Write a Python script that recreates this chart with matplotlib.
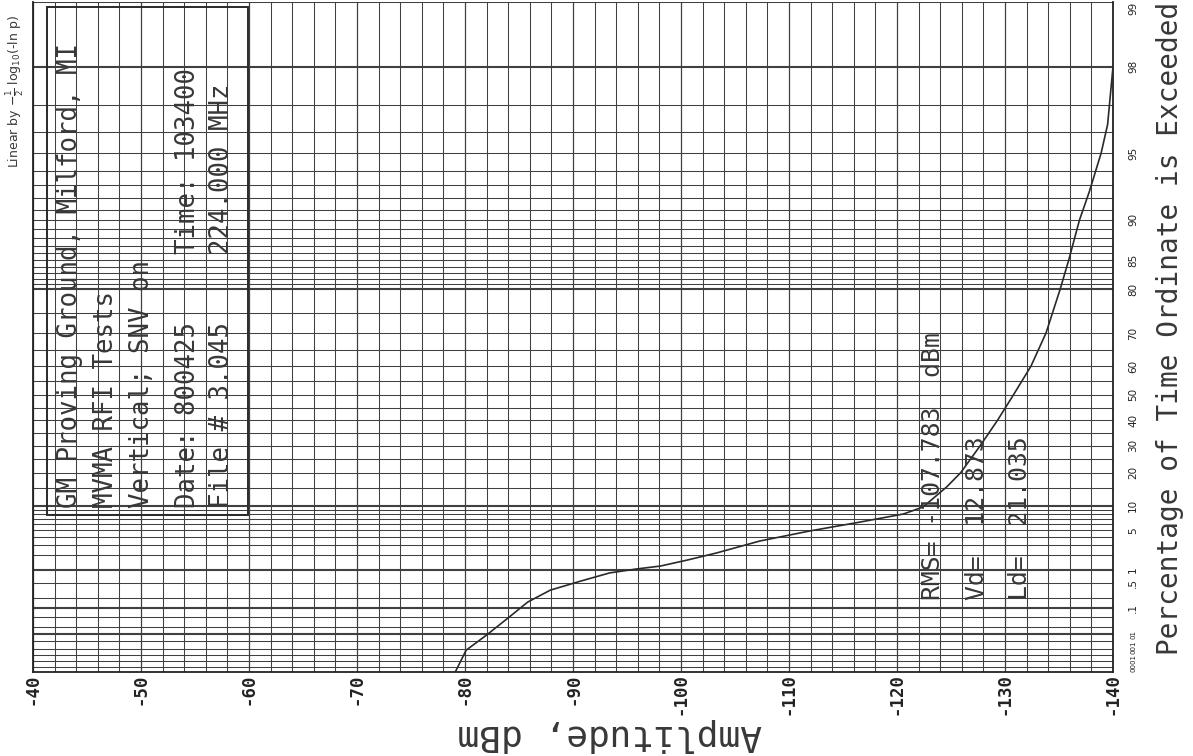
import numpy as np
import matplotlib
matplotlib.use("Agg")
import matplotlib.pyplot as plt
import matplotlib.transforms as mtransforms
from matplotlib.patches import Rectangle
from matplotlib.ticker import MultipleLocator, NullLocator

# ---------------- data ----------------
amplitude_dbm = [-79.1, -80.1, -82.0, -84.0, -85.8, -87.9, -90.7, -93.4, -95.9, -98.1,
                 -100.6, -103.3, -107.3, -111.9, -116.6, -120.6, -122.4, -124.6, -125.9,
                 -127.7, -129.3, -130.8, -132.4, -133.8, -135.1, -135.9, -136.9, -137.8,
                 -138.9, -139.5, -140.0]
percent_exceeded = [0.0001, 0.0018, 0.0094, 0.045, 0.15, 0.33, 0.56, 0.87, 1.06, 1.22,
                    1.61, 2.18, 3.46, 4.88, 6.45, 8.1, 9.7, 15.3, 20,
                    30, 40, 50, 60, 70, 80, 85, 90, 92.5,
                    95, 96.3, 98.0]

x_ticks = [-40, -50, -60, -70, -80, -90, -100, -110, -120, -130, -140]
y_tick_values = [0.0001, 0.001, 0.01, 0.1, 0.5, 1, 5, 10, 20, 30, 40, 50, 60, 70, 80, 85, 90, 95, 98, 99]
y_tick_labels = ["0001", "001", "01", ".1", ".5", "1", "5", "10", "20", "30", "40", "50",
                 "60", "70", "80", "85", "90", "95", "98", "99"]
y_grid_values = ([0.0001, 0.0002, 0.0005, 0.001, 0.002, 0.005, 0.01, 0.02, 0.05,
                  0.1, 0.2, 0.5, 1, 2, 3, 4, 5, 6, 7, 8, 9, 10, 15, 20, 25, 30, 35, 40,
                  45, 50, 55, 60, 65, 70, 75, 80, 81, 82, 83, 84, 85, 86, 87, 88, 89, 90,
                  91, 92, 93, 94, 95, 96, 97, 98, 99])
y_heavy_values = [0.01, 0.1, 1, 10, 80, 98]

box_lines = ["GM Proving Ground, Milford, MI", "MVMA RFI Tests", "Vertical; SNV on",
             "Date: 800425", "File # 3.045"]
box_right_lines = ["Time: 103400", "224.000 MHz"]
stat_lines = ["RMS= -107.783  dBm", "Vd=  12.873", "Ld=  21.035"]

# ---------------- scale ----------------
def fwd(p):
    p = np.clip(np.asarray(p, dtype=float), 1e-12, 100 - 1e-9)
    return -0.5 * np.log10(-np.log(p / 100.0))

def inv(u):
    return 100.0 * np.exp(-10.0 ** (-2.0 * np.asarray(u, dtype=float)))

W, H = 1193, 756
fig = plt.figure(figsize=(W / 100, H / 100), dpi=100)
fig.patch.set_facecolor("white")

ax_left, ax_right, ax_bottom, ax_top = 33, 1113, 672, 2
ax = fig.add_axes([ax_left / W, 1 - ax_bottom / H, (ax_right - ax_left) / W, (ax_bottom - ax_top) / H])
ax.set_yscale("function", functions=(fwd, inv))
ax.set_xlim(-40, -140)
ax.set_ylim(0.0001, 99)

gc = "#404040"
for v in y_grid_values:
    lw = 1.5 if v in y_heavy_values else 0.75
    ax.axhline(v, color=gc, lw=lw, zorder=1)
ax.xaxis.set_minor_locator(MultipleLocator(2))
ax.grid(which="minor", axis="x", color=gc, lw=0.75)
ax.grid(which="major", axis="x", color=gc, lw=0.9)

for s in ["left", "bottom", "right"]:
    ax.spines[s].set_color("#222222")
    ax.spines[s].set_linewidth(1.3)
ax.spines["top"].set_visible(False)

ax.set_xticks(x_ticks)
ax.set_xticklabels([str(t) for t in x_ticks], rotation=90, fontsize=12.5,
                   family="DejaVu Sans Mono", fontweight="bold", color="#222222")
ax.tick_params(axis="x", which="both", length=0, pad=1)

# right-hand percentage labels (positioned through the y scale)
ax.yaxis.set_major_locator(NullLocator())
ax.yaxis.set_minor_locator(NullLocator())
blend = mtransforms.blended_transform_factory(ax.transAxes, ax.transData)
lab_x = 1.0 + 20 / 1080
for v, s in zip(y_tick_values, y_tick_labels):
    small = v < 0.05
    va = "center"
    off = 0
    if v == 0.0001:
        va = "bottom"
    elif v == 0.001:
        off = 6
    elif v == 99:
        va = "top"
    t = ax.text(lab_x, v, s, rotation=90, ha="center", va=va,
                fontsize=5.0 if small else 7.5, color="#222222", transform=blend,
                clip_on=False)
    if off:
        t.set_transform(blend + mtransforms.ScaledTranslation(0, off / 72, fig.dpi_scale_trans))

# curve
ax.plot(amplitude_dbm, percent_exceeded, color="#2a2a2a", lw=1.2, zorder=5)

# text box
ax.add_patch(Rectangle(((47 - ax_left) / 1080, (ax_bottom - 515) / 670),
                       (248 - 47) / 1080, (515 - 7) / 670, transform=ax.transAxes,
                       fill=False, ec="#2a2a2a", lw=1.4, zorder=6))

mono = "DejaVu Sans Mono"
tc = "#383838"
box_x = [70, 106, 142, 188, 222]
for xpx, s in zip(box_x, box_lines):
    fig.text(xpx / W, 1 - 508 / H, s, rotation=90, rotation_mode="anchor",
             ha="left", va="center", fontsize=18.5, family=mono, color=tc)
for xpx, s in zip(box_x[3:], box_right_lines):
    fig.text(xpx / W, 1 - 254 / H, s, rotation=90, rotation_mode="anchor",
             ha="left", va="center", fontsize=18.5, family=mono, color=tc)

stat_x = [933, 977, 1020]
for xpx, s in zip(stat_x, stat_lines):
    fig.text(xpx / W, 1 - 600 / H, s, rotation=90, rotation_mode="anchor",
             ha="left", va="center", fontsize=17.8, family=mono, color=tc, zorder=7)

# axis labels
fig.text(610 / W, 1 - 735 / H, "Amplitude, dBm", rotation=180, ha="center", va="center",
         fontsize=26, family=mono, color=tc)
fig.text(1170 / W, 1 - 328 / H, "Percentage of Time Ordinate is Exceeded", rotation=90,
         ha="center", va="center", fontsize=20, family=mono, color=tc)
fig.text(15 / W, 1 - 92 / H, r"Linear by $-\frac{1}{2}$ log$_{10}$(-ln p)", rotation=90,
         ha="center", va="center", fontsize=9, color=tc)

fig.savefig("out.png", dpi=100, facecolor="white")
